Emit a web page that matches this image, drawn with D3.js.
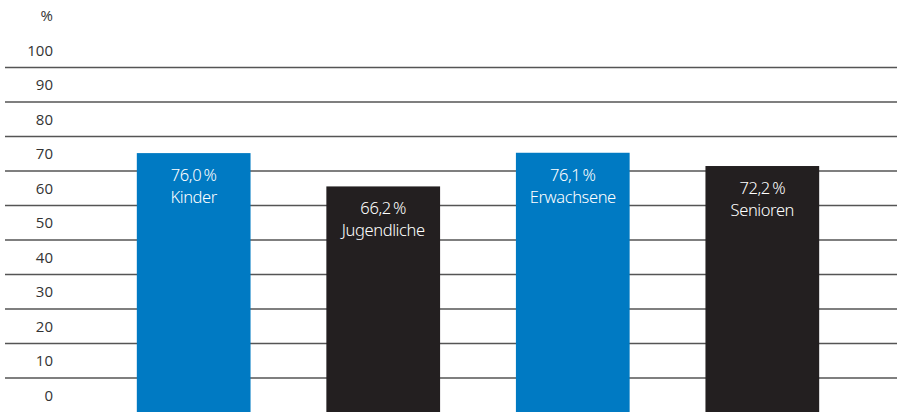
<!DOCTYPE html>
<html>
<head>
<meta charset="utf-8">
<script src="https://cdn.jsdelivr.net/npm/d3@7.9.0/dist/d3.min.js"></script>
<style>
  html, body { margin: 0; padding: 0; background: #fff; }
  svg { display: block; }
  .tick-label { font-family: "Open Sans", sans-serif; font-size: 15px; fill: #333; }
  .bar-text { font-family: "Noto Sans", "Open Sans", sans-serif; font-stretch: condensed; font-weight: 300; font-size: 16.5px; letter-spacing: -0.4px; fill: #fff; }
</style>
</head>
<body>
<svg id="chart" width="897" height="412"></svg>
<script>
// data
const groups = ['Kinder', 'Jugendliche', 'Erwachsene', 'Senioren'];
const shares = [76.0, 66.2, 76.1, 72.2];
const barColors = ['#007ac3', '#231f20', '#007ac3', '#231f20'];
const tickLabels = ['%', '100', '90', '80', '70', '60', '50', '40', '30', '20', '10', '0'];

const width = 897, height = 412;
const svg = d3.select('#chart');

const de = d3.formatLocale({ decimal: ',', thousands: '.', grouping: [3], currency: ['', ' €'] });
const fmt = de.format('.1f');

// label rows: each label sits in its own band, grid lines between bands
const rows = d3.scaleBand()
  .domain(tickLabels)
  .range([-1.5, 412.5]);

const x = d3.scaleBand()
  .domain(groups)
  .range([61, 895])
  .paddingInner(0.4)
  .paddingOuter(0.4);

const y = d3.scaleLinear()
  .domain([0, 100])
  .range([411.5, 71.5]);

// grid lines (between rows, from "100|90" down to "10|0")
svg.append('g')
  .selectAll('line')
  .data(tickLabels.slice(2))
  .join('line')
  .attr('x1', 5)
  .attr('x2', width)
  .attr('y1', d => rows(d))
  .attr('y2', d => rows(d))
  .attr('stroke', '#555')
  .attr('stroke-width', 1.3);

svg.append('g')
  .selectAll('text')
  .data(tickLabels)
  .join('text')
  .attr('class', 'tick-label')
  .attr('x', 53)
  .attr('y', d => rows(d) + rows.bandwidth() / 2)
  .attr('dy', '0.35em')
  .attr('text-anchor', 'end')
  .text(d => d);

const data = groups.map((g, i) => ({ group: g, value: shares[i], color: barColors[i] }));

const bars = svg.append('g')
  .selectAll('g')
  .data(data)
  .join('g');

bars.append('rect')
  .attr('x', d => x(d.group))
  .attr('width', x.bandwidth())
  .attr('y', d => y(d.value))
  .attr('height', d => height - y(d.value))
  .attr('fill', d => d.color);

bars.append('text')
  .attr('class', 'bar-text')
  .attr('text-anchor', 'middle')
  .attr('x', d => x(d.group) + x.bandwidth() / 2)
  .attr('y', d => y(d.value) + 28)
  .text(d => fmt(d.value) + '\u2009%');

bars.append('text')
  .attr('class', 'bar-text')
  .attr('text-anchor', 'middle')
  .attr('x', d => x(d.group) + x.bandwidth() / 2)
  .attr('y', d => y(d.value) + 50)
  .text(d => d.group);
</script>
</body>
</html>
